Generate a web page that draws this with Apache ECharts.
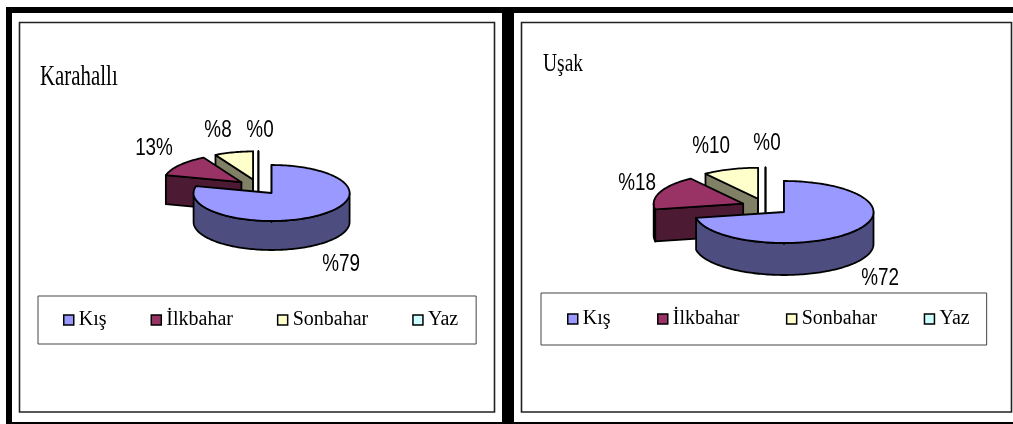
<!DOCTYPE html>
<html><head><meta charset="utf-8">
<style>html,body{margin:0;padding:0;background:#fff}#c{width:1013px;height:424px}</style>
<script src="https://cdn.jsdelivr.net/npm/echarts@6/dist/echarts.min.js"></script>
</head><body><div id="c"></div>
<script>
const categories = ['Kış', 'İlkbahar', 'Sonbahar', 'Yaz'];
const karahalliValues = [79, 13, 8, 0];
const usakValues = [72, 18, 10, 0];
const karahalliLabels = ['%79', '13%', '%8', '%0'];
const usakLabels = ['%72', '%18', '%10', '%0'];
const topColors = ['#9999FF', '#993366', '#FFFFCC', '#CCFFFF'];
const sideColors = ['#4D4D80', '#4D1A33', '#808066', '#668080'];

const geoA = {cx: 258.4, cy: 186.9, rx: 78, ry: 28, depth: 29, explode: 21.5, labels: [[341,265],[154,149],[218,131],[260,131]]};
const geoB = {cx: 765.5, cy: 206.7, rx: 89.5, ry: 31, depth: 32, explode: 24, labels: [[880,279],[637,184],[711,147],[767,144]]};

const rad = d => d * Math.PI / 180;
function makeRender(values, labels, geo, idx) {
  const total = values.reduce((a, b) => a + b, 0);
  const start = values.slice(0, idx).reduce((a, b) => a + b, 0) / total * 360;
  return function (params, api) {
    const a0 = start, a1 = start + api.value(0) / total * 360, mid = (a0 + a1) / 2;
    const cx = geo.cx + geo.explode * Math.sin(rad(mid));
    const cy = geo.cy - geo.explode * Math.cos(rad(mid)) * geo.ry / geo.rx;
    const pt = (a, dz) => [cx + geo.rx * Math.sin(rad(a)), cy - geo.ry * Math.cos(rad(a)) + (dz || 0)];
    const arc = (s, e, dz) => { const p = []; const n = Math.max(1, Math.ceil(Math.abs(e - s) / 1.5));
      for (let i = 0; i <= n; i++) p.push(pt(s + (e - s) * i / n, dz)); return p; };
    const apex = [cx, cy], apexLow = [cx, cy + geo.depth];
    const st = (fill) => ({fill, stroke: '#000', lineWidth: 1.8, lineJoin: 'round'});
    const kids = [];
    const s = Math.max(a0, 90), e = Math.min(a1, 270);
    if (e > s) kids.push({type: 'polygon', shape: {points: arc(s, e, 0).concat(arc(e, s, geo.depth))}, style: st(sideColors[idx]), silent: true});
    const face = a => ({type: 'polygon', shape: {points: [apex, pt(a), pt(a, geo.depth), apexLow]}, style: st(sideColors[idx]), silent: true});
    if (Math.sin(rad(a0)) < 1e-6) kids.push(face(a0));
    if (Math.sin(rad(a1)) > -1e-6) kids.push(face(a1));
    if (a1 > a0) kids.push({type: 'polygon', shape: {points: [apex].concat(arc(a0, a1, 0))}, style: st(topColors[idx]), silent: true});
    kids.push({type: 'text', x: geo.labels[idx][0], y: geo.labels[idx][1], scaleX: 0.82, silent: true,
      style: {text: labels[idx], fontFamily: 'Liberation Sans', fontSize: 23, fill: '#000', align: 'center', verticalAlign: 'middle'}});
    return {type: 'group', children: kids};
  };
}
function seriesFor(values, labels, geo) {
  const out = [];
  for (let i = categories.length - 1; i >= 0; i--) {
    out.push({type: 'custom', name: categories[i], coordinateSystem: 'none', silent: true, animation: false,
      itemStyle: {color: topColors[i]}, data: [[values[i]]], renderItem: makeRender(values, labels, geo, i), clip: false});
  }
  return out;
}
const legendBase = {
  data: categories, orient: 'horizontal', icon: 'rect', itemWidth: 10, itemHeight: 10, itemGap: 44,
  backgroundColor: '#fff', borderColor: '#444', borderWidth: 1, selectedMode: false,
  itemStyle: {borderColor: '#000', borderWidth: 1.5},
  textStyle: {fontFamily: 'Liberation Serif', fontSize: 20, color: '#000'}
};
const box = (x, y, w, h, fill, stroke, lw) => ({type: 'rect', silent: true, shape: {x, y, width: w, height: h}, style: {fill, stroke, lineWidth: lw}});
const titleText = (text, x, y, size, sx) => ({type: 'text', silent: true, x, y, scaleX: sx, z: 10,
  style: {text, fontFamily: 'Liberation Serif', fontSize: size, fill: '#000', verticalAlign: 'middle'}});

const chart = echarts.init(document.getElementById('c'), null, {renderer: 'canvas'});
chart.setOption({
  animation: false, backgroundColor: '#fff',
  graphic: [
    box(6, 7, 1007, 417, '#000', null, 0),
    box(12, 13, 490, 409, '#fff', null, 0),
    box(514, 13, 499, 409, '#fff', null, 0),
    box(19.5, 22.5, 475, 389.5, '#fff', '#222', 1.6),
    box(521.5, 22.5, 490, 389.5, '#fff', '#222', 1.6),
    titleText('Karahallı', 40, 77, 29, 0.72),
    titleText('Uşak', 543, 64, 25, 0.78)
  ],
  legend: [
    Object.assign({}, legendBase, {left: 38, top: 296, padding: [14, 18, 14, 25]}),
    Object.assign({}, legendBase, {left: 541, top: 293, itemGap: 46.5, padding: [16, 17, 16, 26]})
  ],
  series: seriesFor(karahalliValues, karahalliLabels, geoA).concat(seriesFor(usakValues, usakLabels, geoB))
});
</script></body></html>
